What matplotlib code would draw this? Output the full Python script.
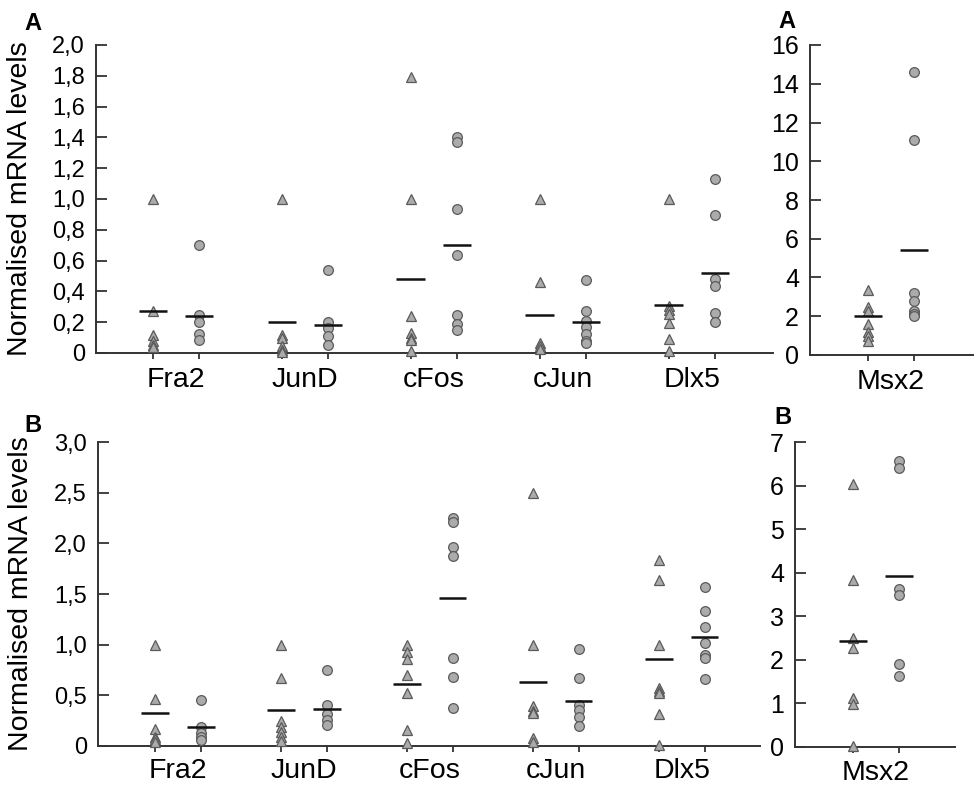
import matplotlib
matplotlib.use("Agg")
import matplotlib.pyplot as plt
from matplotlib.ticker import FuncFormatter

plt.rcParams['font.family'] = ['Liberation Sans', 'DejaVu Sans']

genes = ["Fra2", "JunD", "cFos", "cJun", "Dlx5"]

# Panel A (top-left): triangles = group 1, circles = group 2
a_tri = [
    [1.0, 0.27, 0.12, 0.075, 0.05, 0.04],
    [1.0, 0.12, 0.10, 0.045, 0.02, 0.005],
    [1.79, 1.0, 0.24, 0.13, 0.10, 0.086, 0.01],
    [1.0, 0.46, 0.065, 0.043, 0.026],
    [1.0, 0.307, 0.28, 0.25, 0.195, 0.09, 0.01],
]
a_cir = [
    [0.70, 0.245, 0.20, 0.125, 0.082],
    [0.54, 0.20, 0.16, 0.11, 0.054],
    [1.405, 1.373, 0.936, 0.634, 0.249, 0.19, 0.15],
    [0.476, 0.275, 0.205, 0.166, 0.123, 0.076, 0.065],
    [1.13, 0.897, 0.48, 0.437, 0.26, 0.20],
]
a_tri_mean = [0.27, 0.20, 0.48, 0.245, 0.31]
a_cir_mean = [0.24, 0.18, 0.70, 0.20, 0.52]

# Panel A (top-right): Msx2
a_msx_tri = [3.36, 2.5, 2.28, 1.6, 1.17, 1.0, 0.74]
a_msx_cir = [14.6, 11.08, 3.22, 2.8, 2.28, 2.1, 2.0]
a_msx_tri_mean = 2.0
a_msx_cir_mean = 5.4

# Panel B (bottom-left)
b_tri = [
    [1.0, 0.464, 0.165, 0.09, 0.066, 0.043],
    [1.0, 0.668, 0.25, 0.19, 0.14, 0.09, 0.053],
    [1.0, 0.93, 0.856, 0.70, 0.52, 0.158, 0.026],
    [2.5, 1.0, 0.39, 0.35, 0.33, 0.076, 0.043],
    [1.84, 1.64, 1.0, 0.576, 0.54, 0.52, 0.316, 0.01],
]
b_cir = [
    [0.454, 0.19, 0.13, 0.09, 0.06],
    [0.75, 0.405, 0.32, 0.257, 0.207],
    [2.25, 2.21, 1.96, 1.877, 0.873, 0.678, 0.379],
    [0.96, 0.675, 0.405, 0.356, 0.29, 0.20],
    [1.574, 1.334, 1.17, 1.02, 0.90, 0.873, 0.665],
]
b_tri_mean = [0.33, 0.36, 0.61, 0.635, 0.856]
b_cir_mean = [0.184, 0.365, 1.46, 0.445, 1.073]

# Panel B (bottom-right): Msx2
b_msx_tri = [6.04, 3.83, 2.51, 2.27, 1.13, 0.995, 0.02]
b_msx_cir = [6.56, 6.41, 3.62, 3.5, 1.91, 1.62]
b_msx_tri_mean = 2.43
b_msx_cir_mean = 3.92

W, H = 976, 790
fig = plt.figure(figsize=(W / 100, H / 100), dpi=100)


def make_ax(l, r, t, b):
    return fig.add_axes([l / W, 1 - b / H, (r - l) / W, (b - t) / H])


OFF = 0.18
FILL = "#ababab"
EDGE = "#5a5a5a"
SPINE = "#333333"


def comma(v, pos):
    if abs(v) < 1e-9:
        return "0"
    return ("%.1f" % v).replace(".", ",")


def style(ax, ylim, yticks, fmt, xlim, names, centers, label_pad, ysize):
    ax.set_ylim(*ylim)
    ax.set_xlim(*xlim)
    for s in ["top", "right"]:
        ax.spines[s].set_visible(False)
    for s in ["left", "bottom"]:
        ax.spines[s].set_color(SPINE)
        ax.spines[s].set_linewidth(1.4)
    ax.set_yticks(yticks)
    if fmt is not None:
        ax.yaxis.set_major_formatter(FuncFormatter(fmt))
    ax.tick_params(axis="y", direction="in", length=8, width=1.3,
                   color=SPINE, labelsize=ysize, pad=8)
    pos = []
    for c in centers:
        pos += [c - OFF, c + OFF]
    ax.set_xticks(pos)
    ax.set_xticklabels([""] * len(pos))
    ax.tick_params(axis="x", which="major", direction="out", length=4,
                   width=1.3, color=SPINE)
    ax.set_xticks(centers, minor=True)
    ax.set_xticklabels(names, minor=True)
    ax.tick_params(axis="x", which="minor", length=0, labelsize=20.5,
                   pad=label_pad)


def draw(ax, centers, tris, cirs, tmeans, cmeans):
    for c, t, ci, tm, cm in zip(centers, tris, cirs, tmeans, cmeans):
        ax.plot([c - OFF] * len(t), t, linestyle="none", marker="^",
                markersize=7.5, markerfacecolor=FILL, markeredgecolor=EDGE,
                markeredgewidth=0.9, clip_on=False, zorder=3)
        ax.plot([c + OFF] * len(ci), ci, linestyle="none", marker="o",
                markersize=7, markerfacecolor=FILL, markeredgecolor=EDGE,
                markeredgewidth=0.9, clip_on=False, zorder=3)
        ax.hlines(tm, c - OFF - 0.11, c - OFF + 0.11, color="#111111",
                  linewidth=1.8, zorder=4)
        ax.hlines(cm, c + OFF - 0.11, c + OFF + 0.11, color="#111111",
                  linewidth=1.8, zorder=4)


# Top-left
ax1 = make_ax(96, 773, 45, 353)
c5 = list(range(len(genes)))
draw(ax1, c5, a_tri, a_cir, a_tri_mean, a_cir_mean)
style(ax1, (0, 2.0), [0, 0.2, 0.4, 0.6, 0.8, 1.0, 1.2, 1.4, 1.6, 1.8, 2.0],
      comma, (-0.62, 4.63), genes, c5, 10, 17)
ax1.set_ylabel("Normalised mRNA levels", fontsize=20.5)
ax1.yaxis.set_label_coords(-0.093, 0.5)

# Top-right
ax2 = make_ax(810, 973, 45, 355)
draw(ax2, [0], [a_msx_tri], [a_msx_cir], [a_msx_tri_mean], [a_msx_cir_mean])
style(ax2, (0, 16), [0, 2, 4, 6, 8, 10, 12, 14, 16], None,
      (-0.63, 0.64), ["Msx2"], [0], 10, 18)

# Bottom-left
ax3 = make_ax(98, 744 + 16, 442, 746)
draw(ax3, c5, b_tri, b_cir, b_tri_mean, b_cir_mean)
style(ax3, (0, 3.0), [0, 0.5, 1.0, 1.5, 2.0, 2.5, 3.0], comma,
      (-0.635, 4.62), genes, c5, 9, 17)
ax3.set_ylabel("Normalised mRNA levels", fontsize=20.5)
ax3.yaxis.set_label_coords(-0.097, 0.5)

# Bottom-right
ax4 = make_ax(795, 955, 442, 747)
draw(ax4, [0], [b_msx_tri], [b_msx_cir], [b_msx_tri_mean], [b_msx_cir_mean])
style(ax4, (0, 7), [0, 1, 2, 3, 4, 5, 6, 7], None,
      (-0.63, 0.62), ["Msx2"], [0], 9, 18)

# Panel letters
for x, y, s in [(33, 23, "A"), (787, 22, "A"), (33, 426, "B"), (783, 417, "B")]:
    fig.text(x / W, 1 - y / H, s, fontsize=17, fontweight="bold",
             ha="center", va="center")

fig.savefig("out.png", dpi=100)
